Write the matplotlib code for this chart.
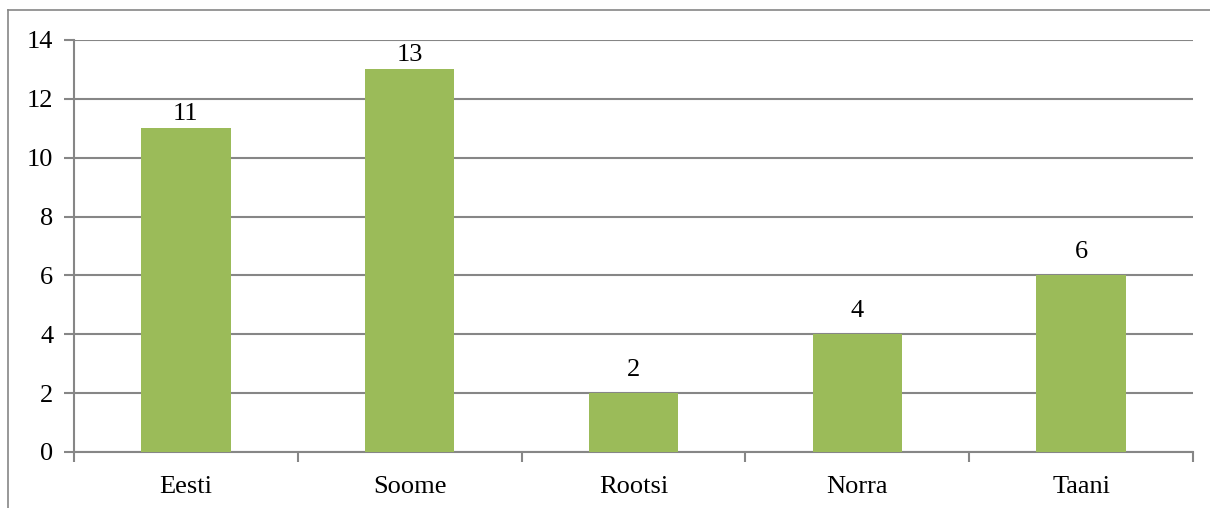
import matplotlib
matplotlib.use("Agg")
import matplotlib.pyplot as plt
from matplotlib.lines import Line2D

countries = ["Eesti", "Soome", "Rootsi", "Norra", "Taani"]
counts = [11, 13, 2, 4, 6]
y_ticks = [0, 2, 4, 6, 8, 10, 12, 14]

plt.rcParams['font.family'] = ['Liberation Serif', 'DejaVu Serif']
grid_col = '#868686'
bar_col = '#9BBB59'

W, H = 1210, 508
fig = plt.figure(figsize=(W / 100, H / 100), dpi=100)
ax = fig.add_axes([74 / W, 1 - 452 / H, (1193 - 74) / W, (452 - 40) / H])

x = list(range(len(countries)))
ax.bar(x, counts, width=0.4, color=bar_col, zorder=3)
for xi, v in zip(x, counts):
    # the short labels sit a bit higher above their bars in the original
    off = 2.5 if v >= 10 else 9
    ax.annotate(str(v), (xi, v), xytext=(0, off), textcoords='offset points',
                ha='center', va='bottom', fontsize=19)

ax.set_xlim(-0.5, len(countries) - 0.5)
ax.set_ylim(0, 14)
ax.set_yticks(y_ticks)
ax.set_yticklabels([str(t) for t in y_ticks], fontsize=19)
ax.yaxis.grid(True, color=grid_col, linewidth=1.5, zorder=0)

# category labels between boundary ticks
ax.set_xticks(x)
ax.set_xticklabels(countries, fontsize=19)
ax.tick_params(axis='x', length=0, pad=17)
ax.set_xticks([i - 0.5 for i in range(len(countries) + 1)], minor=True)
ax.tick_params(axis='x', which='minor', length=7, width=1.5, color=grid_col)
ax.tick_params(axis='y', length=7, width=1.5, color=grid_col, pad=8)

for side in ['top', 'right']:
    ax.spines[side].set_visible(False)
for side in ['left', 'bottom']:
    ax.spines[side].set_color(grid_col)
    ax.spines[side].set_linewidth(1.5)

# outer chart border (left and top edges visible)
fig.add_artist(Line2D([8 / W, 8 / W], [0, 1 - 10 / H], transform=fig.transFigure,
                      color=grid_col, linewidth=1.2))
fig.add_artist(Line2D([8 / W, 1], [1 - 10 / H, 1 - 10 / H], transform=fig.transFigure,
                      color=grid_col, linewidth=1.2))

fig.savefig("out.png", dpi=100, facecolor='white')
